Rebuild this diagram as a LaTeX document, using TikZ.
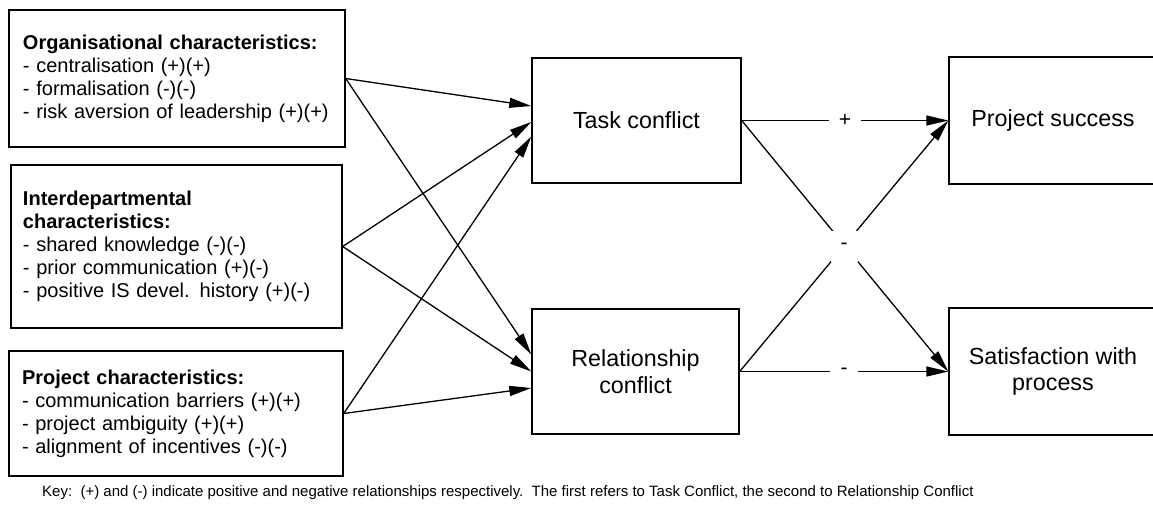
\documentclass[tikz,border=0pt]{standalone}
\usepackage{fontspec}
\setmainfont{Liberation Sans}
\usetikzlibrary{arrows.meta}
\begin{document}
\begin{tikzpicture}[x=1pt,y=-1pt,
  lbox/.style={draw, line width=1.4pt, inner ysep=0pt, align=left,
    font=\fontsize{20}{23}\selectfont},
  mbox/.style={draw, line width=1.4pt, inner sep=0pt, align=center,
    font=\fontsize{23.3}{26.5}\selectfont},
  arr/.style={line width=1.3pt, -{Triangle[length=22pt,width=10pt]}},
  lbl/.style={fill=white, inner sep=0pt, minimum width=32pt, minimum height=16pt,
    font=\fontsize{21}{21}\selectfont}]
\path[use as bounding box, clip] (0,0) rectangle (1153,504);

\node[lbox, minimum width=336pt, minimum height=137pt, inner xsep=14pt, text width=308pt] (org) at (177,78.5)
  {\textbf{Organisational characteristics:}\\- centralisation (+)(+)\\- formalisation (-)(-)\\- risk aversion of leadership (+)(+)};
\node[lbox, minimum width=331pt, minimum height=163pt, inner xsep=12pt, text width=307pt] (inter) at (176.5,246.5)
  {\textbf{Interdepartmental}\\\textbf{characteristics:}\\- shared knowledge (-)(-)\\- prior communication (+)(-)\\- positive IS devel. history (+)(-)};
\node[lbox, minimum width=334pt, minimum height=125pt, inner xsep=13pt, text width=308pt] (proj) at (176,413.5)
  {\textbf{Project characteristics:}\\- communication barriers (+)(+)\\- project ambiguity (+)(+)\\- alignment of incentives (-)(-)};

\node[mbox, minimum width=209pt, minimum height=125pt] (task) at (636.5,120.5) {Task conflict};
\node[mbox, minimum width=207pt, minimum height=125pt] (rel) at (635.5,371.5) {Relationship\\conflict};
\node[mbox, minimum width=208pt, minimum height=127pt] (ps) at (1053,120.5) {Project success};
\node[mbox, minimum width=208pt, minimum height=127pt] (sat) at (1053,371.5) {Satisfaction with\\process};

\draw[arr] (org.east) -- ([yshift=14.5pt]task.west);
\draw[arr] (org.east) -- ([yshift=17pt]rel.west);
\draw[arr] (inter.east) -- ([yshift=-1.5pt]task.west);
\draw[arr] (inter.east) -- ([yshift=0pt]rel.west);
\draw[arr] (proj.east) -- ([yshift=-16pt]task.west);
\draw[arr] (proj.east) -- ([yshift=-16.5pt]rel.west);

\draw[arr] (task.east) -- node[lbl] {+} (ps.west);
\draw[arr] (rel.east) -- node[lbl, minimum width=28pt] {-} (sat.west);
\draw[arr] (task.east) -- (sat.west);
\draw[arr] (rel.east) -- node[lbl, minimum width=27pt, minimum height=31pt] (x) {-} (ps.west);

\node[anchor=base west, inner sep=0pt, font=\fontsize{15}{17}\selectfont] (key) at (42,496)
  {Key:\ \ (+) and (-) indicate positive and negative relationships respectively.\ \ The first refers to Task Conflict, the second to Relationship Conflict};
\end{tikzpicture}
\end{document}
